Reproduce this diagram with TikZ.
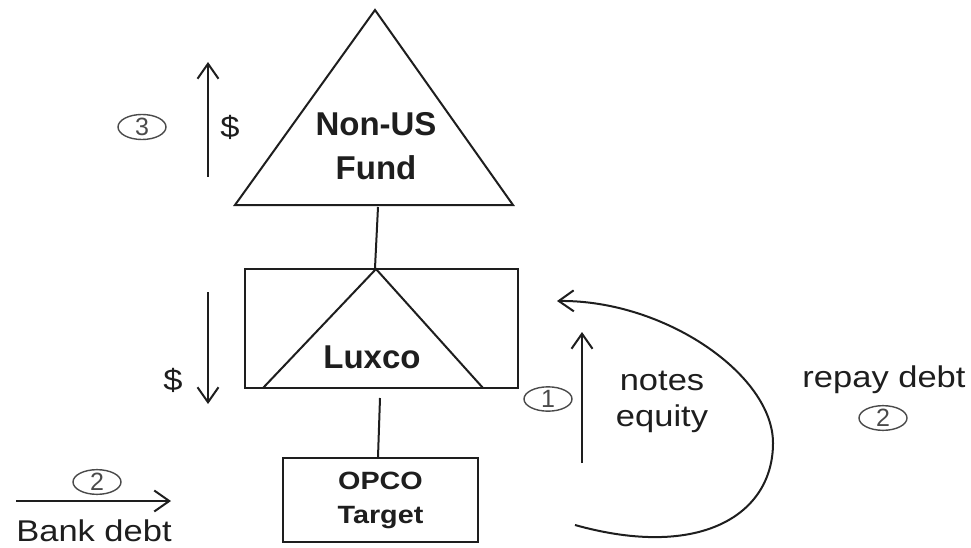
\documentclass[tikz,border=0pt]{standalone}
\usepackage{fontspec}
\setmainfont{Liberation Sans}
\newfontfamily\widesans{Liberation Sans}[FakeStretch=1.15]
\usetikzlibrary{arrows.meta,shapes.geometric}
\definecolor{ink}{HTML}{1E1E1E}
\definecolor{mark}{HTML}{4A4A4A}
\tikzset{
  wire/.style={draw=ink,line width=2pt},
  flow/.style={wire,-{Straight Barb[length=15pt,width=21pt,line width=2pt]}},
  plain/.style={text=ink,font=\widesans\fontsize{30}{36}\selectfont,inner sep=0pt},
  heavy/.style={text=ink,font=\fontsize{33}{44}\bfseries\selectfont,inner sep=0pt,align=center},
  stepnum/.style={draw=mark,line width=1.4pt,ellipse,minimum width=48pt,minimum height=24pt,inner sep=0pt,text=mark,font=\fontsize{25}{25}\selectfont},
}
\begin{document}
\begin{tikzpicture}[x=1pt,y=-1pt]
\useasboundingbox (0,0) rectangle (971,548);
% Non-US Fund triangle
\draw[wire,line join=miter] (375,10) -- (513,205) -- (235,205) -- cycle;
\node[heavy] (fund) at (376,146.5) {Non-US\\Fund};
\coordinate (fundbase) at (378,207);
% Luxco box with inner triangle
\node[wire,minimum width=273pt,minimum height=119pt,inner sep=0pt] (lux) at (381.5,328.5) {};
\draw[wire] (263,388) -- (376,269) -- (483,388);
\node[heavy] (luxt) at (372,357) {Luxco};
\draw[wire] (fundbase) -- (lux.north -| 375,0);
% OPCO box
\node[wire,minimum width=195pt,minimum height=84pt,inner sep=0pt,text=ink,align=center,font=\widesans\fontsize{25}{34}\bfseries\selectfont] (opco) at (380.5,500) {OPCO\\Target};
\coordinate (luxlow) at (380,398);
\draw[wire] (luxlow) -- (opco.north -| 378,0);
% dollar flows
\coordinate (up3a) at (208,177); \coordinate (up3b) at (208,62);
\draw[flow] (up3a) -- (up3b);
\node[plain] (usd1) at (230,127) {\$};
\node[stepnum] (s3) at (142,127) {3};
\coordinate (dn1a) at (208,292); \coordinate (dn1b) at (208,404);
\draw[flow] (dn1a) -- (dn1b);
\node[plain] (usd2) at (173,380) {\$};
% bank debt
\coordinate (bka) at (16,501); \coordinate (bkb) at (171,501);
\draw[flow] (bka) -- (bkb);
\node[stepnum] (s2a) at (97,482) {2};
\node[plain] (bank) at (94,531) {Bank debt};
% notes / equity
\coordinate (nea) at (582,463); \coordinate (neb) at (582,332);
\draw[flow] (nea) -- (neb);
\node[stepnum] (s1) at (548,399) {1};
\node[plain,align=center] (notes) at (662,402) {notes\\equity};
% repayment loop
\coordinate (rpa) at (575,525); \coordinate (rpb) at (557,301);
\draw[flow] (rpa) .. controls (700,560) and (773,515) .. (773,443)
  .. controls (773,375) and (665,300) .. (rpb);
\node[plain] (repay) at (884,380) {repay debt};
\node[stepnum] (s2b) at (883,418) {2};
\end{tikzpicture}
\end{document}
